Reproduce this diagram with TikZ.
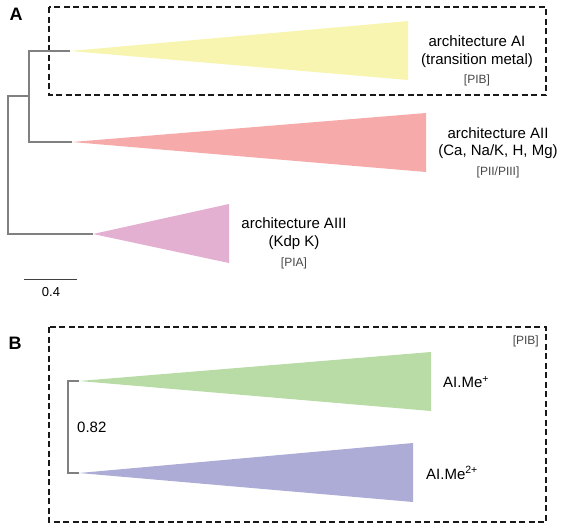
\documentclass[tikz,border=0pt]{standalone}
\usepackage{fontspec}
\setmainfont{Liberation Sans}
\begin{document}
\begin{tikzpicture}[x=1pt,y=-1pt,
  lbl/.style={font=\fontsize{15}{18}\selectfont, text=black, inner sep=0pt, align=center},
  tag/.style={font=\fontsize{12}{14}\selectfont, text=black!72, inner sep=0pt},
  panel/.style={font=\fontsize{18}{20}\selectfont\bfseries, inner sep=0pt},
  branch/.style={draw=black!50, line width=1.1pt},
  frame/.style={draw=black!90, line width=1.4pt, dash pattern=on 6pt off 3.5pt}]
\useasboundingbox (0,0) rectangle (568,525);
\definecolor{cyel}{RGB}{247,245,176}
\definecolor{cred}{RGB}{246,170,170}
\definecolor{cpink}{RGB}{227,176,210}
\definecolor{cgreen}{RGB}{185,220,166}
\definecolor{cpurple}{RGB}{173,172,214}

% ---------- Panel A ----------
\node[panel] (la) at (16,14) {A};
\draw[frame] (49,7) rectangle (546,95);

\fill[cyel] (70,51) -- (408,21) -- (408,80) -- cycle;
\fill[cred] (72,142) -- (426,113) -- (426,172) -- cycle;
\fill[cpink] (93,234) -- (229,204) -- (229,263) -- cycle;

\coordinate (aI) at (70,51);
\coordinate (aII) at (72,142);
\coordinate (aIII) at (93,234);
\coordinate (n1t) at (29,51);
\coordinate (n1b) at (29,142);
\coordinate (n1) at (29,96);
\coordinate (r0t) at (8,96);
\coordinate (r0b) at (8,234);
\draw[branch] (aI) -- (n1t) -- (n1b) -- (aII);
\draw[branch] (n1) -- (r0t) -- (r0b) -- (aIII);

\coordinate (s1) at (24,279);
\coordinate (s2) at (77,279);
\draw[draw=black!75, line width=1pt] (s1) -- (s2);
\node[lbl, font=\fontsize{13}{15}\selectfont] (sl) at (51,292) {0.4};

\node[lbl] (t1a) at (477,41) {architecture AI};
\node[lbl] (t1b) at (477,61) {(transition metal)};
\node[tag] (t1c) at (477,80) {[PIB]};

\node[lbl] (t2a) at (498,133) {architecture AII};
\node[lbl] (t2b) at (498,152) {(Ca, Na/K, H, Mg)};
\node[tag] (t2c) at (498,172) {[PII/PIII]};

\node[lbl] (t3a) at (294,223) {architecture AIII};
\node[lbl] (t3b) at (294,243) {(Kdp K)};
\node[tag] (t3c) at (294,263) {[PIA]};

% ---------- Panel B ----------
\node[panel] (lb) at (15,343) {B};
\draw[frame] (49,327) rectangle (546,522);
\node[tag, anchor=east] (tb) at (539,341) {[PIB]};

\fill[cgreen] (79,381) -- (431,352) -- (431,411) -- cycle;
\fill[cpurple] (79,473) -- (413,443) -- (413,502) -- cycle;

\coordinate (bg) at (79,381);
\coordinate (bp) at (79,473);
\coordinate (bt) at (68,381);
\coordinate (bb) at (68,473);
\draw[branch] (bg) -- (bt) -- (bb) -- (bp);

\node[lbl, anchor=west] (v) at (77,427) {0.82};
\node[lbl, anchor=west] (g1) at (443,382) {AI.Me\textsuperscript{+}};
\node[lbl, anchor=west] (g2) at (426,473) {AI.Me\textsuperscript{2+}};
\end{tikzpicture}
\end{document}
